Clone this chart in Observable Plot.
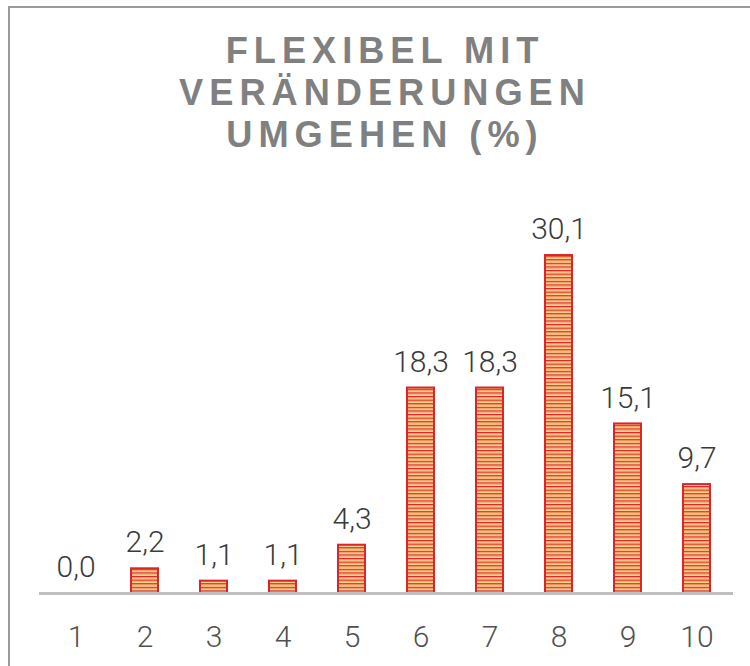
<!DOCTYPE html>
<html>
<head>
<meta charset="utf-8">
<script src="https://cdn.jsdelivr.net/npm/d3@7"></script>
<script src="https://cdn.jsdelivr.net/npm/@observablehq/plot@0.6"></script>
<style>
  html, body { margin: 0; padding: 0; background: #fff; }
  #wrap { position: relative; width: 750px; height: 666px; overflow: hidden; }
  #frameTop { position: absolute; left: 8px; top: 6px; width: 760px; height: 2px; background: #9a9a9a; }
  #frameLeft { position: absolute; left: 8px; top: 6px; width: 2px; height: 700px; background: #9a9a9a; }
  #title { position: absolute; left: 0; top: 30px; width: 770px; text-align: center;
    font-family: "Liberation Sans", Arial, sans-serif; font-weight: bold; font-size: 36.2px;
    line-height: 42px; letter-spacing: 6px; color: #808080; padding-left: 0px; box-sizing: border-box; }
  #chart { position: absolute; left: 0; top: 0; }
  #chart svg text.lbl { letter-spacing: 0.8px; }
</style>
</head>
<body>
<div id="wrap">
  <div id="chart"></div>
  <div id="frameTop"></div>
  <div id="frameLeft"></div>
  <div id="title">FLEXIBEL MIT<br>VERÄNDERUNGEN<br>UMGEHEN (%)</div>
</div>
<script>
const categories = ["1", "2", "3", "4", "5", "6", "7", "8", "9", "10"];
const values = [0.0, 2.2, 1.1, 1.1, 4.3, 18.3, 18.3, 30.1, 15.1, 9.7];
const valueLabels = ["0,0", "2,2", "1,1", "1,1", "4,3", "18,3", "18,3", "30,1", "15,1", "9,7"];

const data = categories.map((c, i) => ({cat: c, value: values[i], label: valueLabels[i]}));

const chart = Plot.plot({
  width: 750,
  height: 666,
  marginTop: 200,
  marginBottom: 73,
  marginLeft: 39,
  marginRight: 17,
  x: {domain: categories, paddingInner: 0.61, paddingOuter: 0.305, axis: null},
  y: {domain: [0, 35], axis: null},
  style: {background: "transparent"},
  marks: [
    Plot.barY(data, {x: "cat", y: "value", fill: "url(#stripes)", stroke: "#d9262b", strokeWidth: 2}),
    Plot.ruleY([0], {stroke: "#c0c0c0", strokeWidth: 3}),
    Plot.text(data, {x: "cat", y: "value", text: "label", dy: -26, lineAnchor: "middle",
      fontSize: 30, fontWeight: 300, fill: "#3a3a3a", fontFamily: "Roboto, sans-serif", className: "lbl"}),
    Plot.text(data, {x: "cat", text: "cat", frameAnchor: "bottom", dy: 44, lineAnchor: "middle",
      fontSize: 30, fontWeight: 300, fill: "#505050", fontFamily: "Roboto, sans-serif", className: "lbl"})
  ]
});

// stripe pattern for bars
const ns = "http://www.w3.org/2000/svg";
const defs = document.createElementNS(ns, "defs");
const pat = document.createElementNS(ns, "pattern");
pat.setAttribute("id", "stripes");
pat.setAttribute("patternUnits", "userSpaceOnUse");
pat.setAttribute("width", "8");
pat.setAttribute("height", "3.6");
[["0", "1.1", "#d9262b"], ["1.1", "1.3", "#f0862e"], ["2.4", "1.2", "#fbd49a"]].forEach(([y, h, c]) => {
  const r = document.createElementNS(ns, "rect");
  r.setAttribute("x", "0"); r.setAttribute("y", y);
  r.setAttribute("width", "8"); r.setAttribute("height", h);
  r.setAttribute("fill", c);
  pat.appendChild(r);
});
defs.appendChild(pat);
chart.insertBefore(defs, chart.firstChild);

document.getElementById("chart").appendChild(chart);
</script>
</body>
</html>
